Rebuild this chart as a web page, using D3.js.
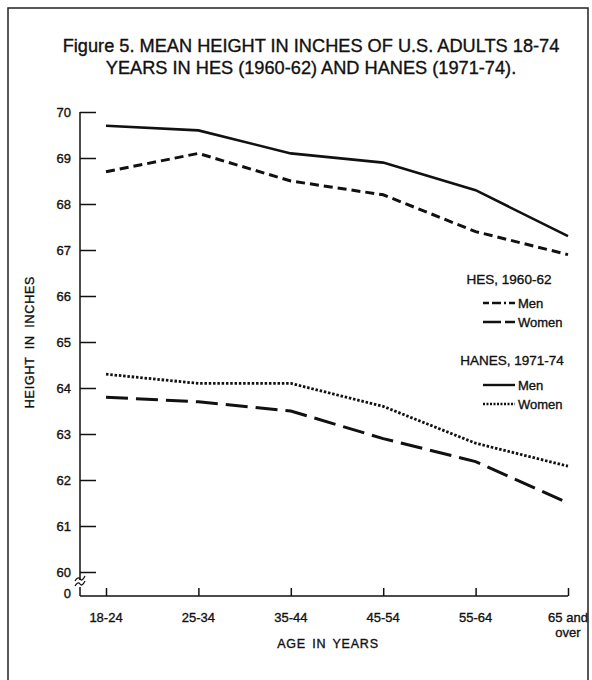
<!DOCTYPE html>
<html>
<head>
<meta charset="utf-8">
<script src="https://cdn.jsdelivr.net/npm/d3@7"></script>
<style>
  body { margin: 0; background: #fff; }
  svg text { font-family: "Liberation Sans", Arial, sans-serif; fill: #111; stroke: #111; stroke-width: 0.35px; }
</style>
</head>
<body>
<div id="chart"></div>
<script>
// age groups on the x axis
const ageGroups = ["18-24", "25-34", "35-44", "45-54", "55-64", "65 and over"];
const yTicks = [60, 61, 62, 63, 64, 65, 66, 67, 68, 69, 70];

// mean height in inches
const hesMen = [68.7, 69.1, 68.5, 68.2, 67.4, 66.9];
const hesWomen = [63.8, 63.7, 63.5, 62.9, 62.4, 61.5];
const hanesMen = [69.7, 69.6, 69.1, 68.9, 68.3, 67.3];
const hanesWomen = [64.3, 64.1, 64.1, 63.6, 62.8, 62.3];

const width = 592, height = 680;

const svg = d3.select("#chart")
    .append("svg")
    .attr("width", width)
    .attr("height", height);

// frame round the figure
svg.append("path")
    .attr("d", "M8,680 L8,8 L588,8 L588,680")
    .attr("fill", "none")
    .attr("stroke", "#222")
    .attr("stroke-width", 1.5);

// title
const title = svg.append("text")
    .attr("text-anchor", "middle")
    .attr("font-size", "18.2px");
title.append("tspan").attr("x", 311).attr("y", 52)
    .text("Figure 5. MEAN HEIGHT IN INCHES OF U.S. ADULTS 18-74");
title.append("tspan").attr("x", 311).attr("y", 74)
    .text("YEARS IN HES (1960-62) AND HANES (1971-74).");

const x = d3.scalePoint()
    .domain(ageGroups)
    .range([106, 568]);

const y = d3.scaleLinear()
    .domain([60, 70])
    .range([572, 112]);

const axisX = 80, baseY = 596;

// y axis, ticks point inward
const yAxis = svg.append("g")
    .attr("transform", `translate(${axisX},0)`)
    .call(d3.axisRight(y).tickValues(yTicks).tickSize(16).tickFormat(""));
yAxis.select(".domain").remove();
yAxis.selectAll("line").attr("stroke", "#111").attr("stroke-width", 1.5);

svg.append("g")
    .selectAll("text")
    .data(yTicks)
    .enter()
    .append("text")
    .attr("x", axisX - 9)
    .attr("y", d => y(d))
    .attr("dy", "0.35em")
    .attr("text-anchor", "end")
    .attr("font-size", "13px")
    .text(d => d);

// axis line with the break near zero
svg.append("line")
    .attr("x1", axisX).attr("x2", axisX)
    .attr("y1", y(70)).attr("y2", 580)
    .attr("stroke", "#111").attr("stroke-width", 1.5);
svg.append("line")
    .attr("x1", axisX).attr("x2", axisX)
    .attr("y1", 587).attr("y2", baseY)
    .attr("stroke", "#111").attr("stroke-width", 1.5);
[0, 5].forEach(off => {
    svg.append("path")
        .attr("d", `M${axisX - 5},${581 + off} q3,-5 5,-2 t5,-3`)
        .attr("fill", "none")
        .attr("stroke", "#111")
        .attr("stroke-width", 1.3);
});
svg.append("text")
    .attr("x", axisX - 9).attr("y", 593)
    .attr("dy", "0.35em")
    .attr("text-anchor", "end")
    .attr("font-size", "13px")
    .text("0");

// x axis
const xAxis = svg.append("g")
    .attr("transform", `translate(0,${baseY})`)
    .call(d3.axisTop(x).tickSize(8).tickFormat(""));
xAxis.select(".domain").remove();
xAxis.selectAll("line").attr("stroke", "#111").attr("stroke-width", 1.5);
svg.append("line")
    .attr("x1", axisX).attr("x2", x(ageGroups[ageGroups.length - 1]))
    .attr("y1", baseY).attr("y2", baseY)
    .attr("stroke", "#111").attr("stroke-width", 1.5);

ageGroups.forEach(g => {
    const parts = g === "65 and over" ? ["65 and", "over"] : [g];
    const t = svg.append("text")
        .attr("text-anchor", "middle")
        .attr("font-size", "13px");
    parts.forEach((p, i) => {
        t.append("tspan")
            .attr("x", x(g))
            .attr("y", 622 + i * 15)
            .text(p);
    });
});

// axis titles
svg.append("text")
    .attr("x", 328).attr("y", 648)
    .attr("text-anchor", "middle")
    .attr("font-size", "12.5px")
    .attr("letter-spacing", "0.8px")
    .attr("word-spacing", "2px")
    .text("AGE IN YEARS");

svg.append("text")
    .attr("transform", "translate(34,342) rotate(-90)")
    .attr("text-anchor", "middle")
    .attr("font-size", "12.5px")
    .attr("letter-spacing", "0.8px")
    .attr("word-spacing", "3px")
    .text("HEIGHT IN INCHES");

// the four series
const series = [
    { values: hanesMen, dash: null, w: 2.6 },
    { values: hesMen, dash: "9,5", w: 3 },
    { values: hesWomen, dash: "22,8", w: 3 },
    { values: hanesWomen, dash: "2.5,1.8", w: 2.8 }
];

const line = d3.line()
    .x((d, i) => x(ageGroups[i]))
    .y(d => y(d));

svg.append("g")
    .selectAll("path")
    .data(series)
    .enter()
    .append("path")
    .attr("d", d => line(d.values))
    .attr("fill", "none")
    .attr("stroke", "#111")
    .attr("stroke-width", d => d.w)
    .attr("stroke-dasharray", d => d.dash);

// legend
const legend = svg.append("g");
const legendHeads = [
    { text: "HES,  1960-62", x: 509, y: 279 },
    { text: "HANES,  1971-74", x: 512, y: 360 }
];
legend.selectAll("text.head")
    .data(legendHeads)
    .enter()
    .append("text")
    .attr("class", "head")
    .attr("x", d => d.x)
    .attr("y", d => d.y)
    .attr("dy", "0.35em")
    .attr("text-anchor", "middle")
    .attr("font-size", "13.5px")
    .text(d => d.text);

const legendRows = [
    { label: "Men", y: 303, dash: "6,3,9,3,2,3", w: 2.6 },
    { label: "Women", y: 322, dash: "18,4", w: 2.6 },
    { label: "Men", y: 385, dash: null, w: 2.4 },
    { label: "Women", y: 404, dash: "2,1.5", w: 2.4 }
];
legendRows.forEach(r => {
    legend.append("line")
        .attr("x1", 483).attr("x2", 515)
        .attr("y1", r.y).attr("y2", r.y)
        .attr("stroke", "#111")
        .attr("stroke-width", r.w)
        .attr("stroke-dasharray", r.dash);
    legend.append("text")
        .attr("x", 518).attr("y", r.y)
        .attr("dy", "0.35em")
        .attr("font-size", "13px")
        .text(r.label);
});
</script>
</body>
</html>
